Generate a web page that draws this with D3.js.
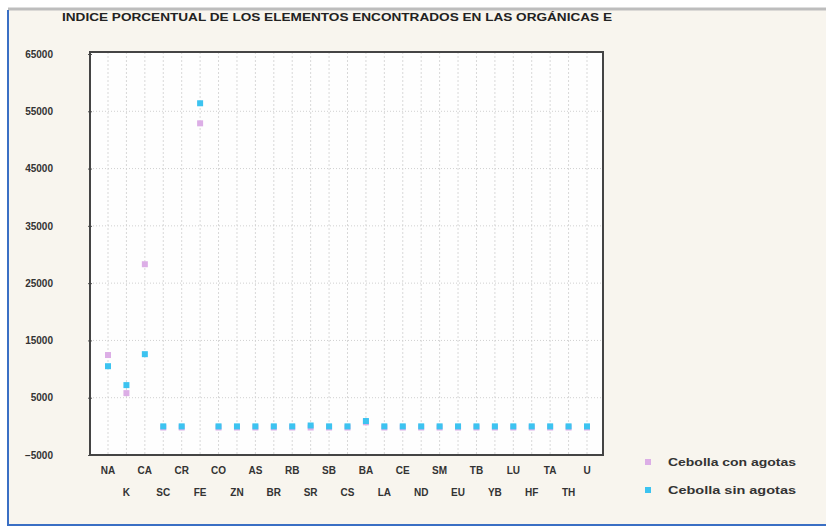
<!DOCTYPE html>
<html>
<head>
<meta charset="utf-8">
<script src="https://cdn.jsdelivr.net/npm/d3@7"></script>
<style>
  body { margin: 0; background: #fff; }
  text { font-family: Arial, "Liberation Sans", sans-serif; }
</style>
</head>
<body>
<svg width="826" height="529"></svg>
<script>
// elements, in the order of the x axis
var elements = ["NA","K","CA","SC","CR","FE","CO","ZN","AS","BR","RB","SR","SB","CS",
                "BA","LA","CE","ND","SM","EU","TB","YB","LU","HF","TA","TH","U"];
var conValues = [12450, 5800, 28300, -200, -200, 52900, -200, -200, -200, -200, -200, -200, -200, -200,
                 700, -200, -200, -200, -200, -200, -200, -200, -200, -200, -200, -200, -200];
var sinValues = [10500, 7200, 12600, 0, 0, 56400, 0, 0, 0, 0, 0, 150, 0, 0,
                 930, 0, 0, 0, 0, 0, 0, 0, 0, 0, 0, 0, 0];
var yTicks = [65000, 55000, 45000, 35000, 25000, 15000, 5000, -5000];
var seriesNames = ["Cebolla con agotas", "Cebolla sin agotas"];
var title = "INDICE PORCENTUAL DE LOS ELEMENTOS ENCONTRADOS EN LAS ORGÁNICAS E";

var svg = d3.select("svg");
var colors = ["#dcaee6", "#3cc3f0"];

// page background and outer frame
svg.append("rect").attr("x", 8).attr("y", 9).attr("width", 818).attr("height", 516).attr("fill", "#f8f5ee");
svg.append("line").attr("x1", 8).attr("x2", 826).attr("y1", 9).attr("y2", 9)
   .attr("stroke", "#bdbdbd").attr("stroke-width", 3);
svg.append("line").attr("x1", 8).attr("x2", 8).attr("y1", 10).attr("y2", 526)
   .attr("stroke", "#3a6fc4").attr("stroke-width", 2);
svg.append("line").attr("x1", 8).attr("x2", 826).attr("y1", 525).attr("y2", 525)
   .attr("stroke", "#3a6fc4").attr("stroke-width", 2);

var pLeft = 90, pRight = 603, pTop = 52, pBottom = 455;

var x = d3.scalePoint().domain(elements).range([108, 587]);
var y = d3.scaleLinear().domain([-5000, 65000]).range([pBottom, 54]);

svg.append("rect").attr("x", pLeft).attr("y", pTop).attr("width", pRight - pLeft).attr("height", pBottom - pTop)
   .attr("fill", "#fefefe");

// grid
svg.append("g").selectAll("line").data(elements).enter().append("line")
   .attr("x1", function (d) { return x(d); }).attr("x2", function (d) { return x(d); })
   .attr("y1", pTop).attr("y2", pBottom)
   .attr("stroke", "#d8d8d8").attr("stroke-dasharray", "2,2");
svg.append("g").selectAll("line").data(yTicks.slice(1, -1)).enter().append("line")
   .attr("x1", pLeft).attr("x2", pRight)
   .attr("y1", function (d) { return y(d); }).attr("y2", function (d) { return y(d); })
   .attr("stroke", "#d0d0d0").attr("stroke-dasharray", "1,2");

// y axis
var yAxis = d3.axisLeft(y).tickValues(yTicks).tickSize(4).tickFormat(d3.format("d"));
var ya = svg.append("g").attr("transform", "translate(" + (pLeft + 2) + ",0)").call(yAxis);
ya.select(".domain").remove();
ya.selectAll("line").attr("stroke", "#555");
ya.selectAll("text").attr("x", -39).attr("font-size", "10px").attr("font-weight", "bold")
  .attr("fill", "#333");

// x labels, alternating rows
svg.append("g").selectAll("text").data(elements).enter().append("text")
   .attr("x", function (d) { return x(d); })
   .attr("y", function (d, i) { return i % 2 == 0 ? 474 : 496; })
   .attr("text-anchor", "middle").attr("font-size", "10px").attr("font-weight", "bold")
   .attr("fill", "#333")
   .text(function (d) { return d; });

// frame
svg.append("rect").attr("x", pLeft).attr("y", pTop).attr("width", pRight - pLeft).attr("height", pBottom - pTop)
   .attr("fill", "none").attr("stroke", "#444").attr("stroke-width", 2);

// points
[conValues, sinValues].forEach(function (vals, s) {
  svg.append("g").selectAll("rect").data(vals).enter().append("rect")
     .attr("x", function (d, i) { return x(elements[i]) - 3; })
     .attr("y", function (d) { return y(d) - 3; })
     .attr("width", 6).attr("height", 6)
     .attr("fill", colors[s]);
});

// title
svg.append("text").attr("x", 62).attr("y", 21).attr("font-size", "10px").attr("font-weight", "bold")
   .attr("fill", "#222").attr("textLength", 550).attr("lengthAdjust", "spacingAndGlyphs")
   .text(title);

// legend
seriesNames.forEach(function (name, i) {
  var ly = 462 + i * 28;
  svg.append("rect").attr("x", 645).attr("y", ly - 3).attr("width", 6).attr("height", 6).attr("fill", colors[i]);
  svg.append("text").attr("x", 668).attr("y", ly + 4).attr("font-size", "10px").attr("font-weight", "bold")
     .attr("fill", "#333").attr("textLength", 128).attr("lengthAdjust", "spacingAndGlyphs").text(name);
});
</script>
</body>
</html>
